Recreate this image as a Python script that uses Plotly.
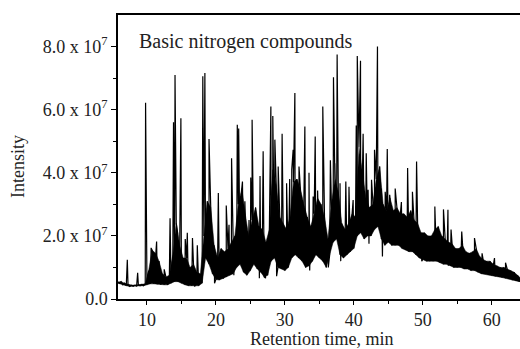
import numpy as np
import plotly.graph_objects as go

# Chromatogram read-out (intensity in units of 1e7), sampled every 0.5 min from 5.5 min
t_start = 5.5
t_step = 0.5
low_env = [0.52,
    0.50, 0.45, 0.42, 0.40, 0.40, 0.41, 0.42, 0.42, 0.45, 0.48,
    0.48, 0.47, 0.45, 0.45, 0.45, 0.50, 0.55, 0.55, 0.50, 0.45,
    0.42, 0.42, 0.42, 0.42, 0.50, 1.30, 1.10, 0.80, 0.62, 0.60,
    0.65, 0.70, 0.75, 0.80, 1.00, 1.10, 0.85, 0.75, 0.90, 1.10,
    0.95, 0.85, 0.70, 0.75, 1.20, 1.30, 1.00, 0.95, 0.90, 1.00,
    1.30, 1.40, 1.30, 1.20, 1.00, 1.05, 1.20, 1.40, 1.30, 1.20,
    1.00, 1.40, 1.80, 1.90, 1.40, 1.30, 1.40, 1.50, 1.60, 2.00,
    2.10, 1.90, 2.00, 2.00, 2.20, 2.30, 1.90, 1.70, 1.80, 1.70,
    1.70, 1.70, 1.60, 1.55, 1.50, 1.50, 1.40, 1.30, 1.25, 1.20,
    1.20, 1.20, 1.20, 1.15, 1.10, 1.10, 1.05, 1.00, 1.00, 1.00,
    0.95, 0.95, 0.90, 0.90, 0.85, 0.80, 0.80, 0.78, 0.75, 0.72,
    0.70, 0.68, 0.66, 0.64, 0.60, 0.58, 0.55]
high_env = [0.54,
    0.55, 0.50, 0.46, 0.44, 0.44, 0.45, 0.46, 0.48, 0.90, 1.55,
    1.45, 1.20, 0.80, 0.70, 0.75, 1.40, 2.40, 1.70, 1.30, 1.30,
    1.00, 1.10, 0.85, 0.80, 2.00, 3.10, 2.90, 1.70, 1.30, 1.60,
    1.50, 1.60, 1.80, 2.00, 3.00, 3.50, 2.70, 2.00, 2.50, 2.90,
    2.30, 2.20, 1.80, 2.20, 4.10, 3.60, 2.60, 2.40, 2.20, 2.60,
    3.70, 3.80, 3.50, 3.00, 2.60, 2.30, 2.70, 3.20, 3.00, 2.60,
    1.90, 3.00, 3.80, 3.40, 2.40, 2.20, 2.40, 2.70, 2.60, 4.80,
    4.00, 3.20, 2.90, 3.00, 3.80, 4.20, 3.00, 2.80, 3.20, 2.80,
    2.90, 2.70, 2.70, 2.60, 2.80, 2.50, 2.40, 2.10, 2.10, 2.00,
    2.00, 2.20, 2.30, 2.00, 1.90, 1.80, 1.75, 1.60, 1.60, 1.70,
    1.50, 1.45, 1.50, 1.60, 1.35, 1.25, 1.20, 1.20, 1.10, 1.05,
    1.00, 1.00, 0.95, 0.90, 0.85, 0.75, 0.65]

# Individual peaks: retention time (min) and apex intensity (1e7)
peak_time = [7.15, 8.65, 9.8, 10.6, 11.4, 12.5, 13.35, 13.85, 14.07, 14.45,
             14.92, 15.55, 15.85, 16.6, 17.3, 18.1, 18.4, 19.0, 20.35, 21.5,
             21.9, 22.27, 23.1, 23.3, 23.85, 24.2, 24.8, 25.05, 25.25, 25.9,
             26.4, 26.85, 27.97, 28.25, 28.55, 29.03, 29.6, 30.25, 30.7, 31.0,
             31.2, 31.45, 32.05, 32.9, 33.5, 34.1, 34.4, 34.75, 35.5, 36.6,
             37.05, 37.25, 37.58, 38.0, 38.84, 39.3, 39.9, 40.35, 40.5, 40.97,
             41.35, 41.8, 42.07, 42.57, 43.0, 43.43, 44.0, 44.55, 44.85, 45.2,
             46.0, 46.9, 47.8, 48.5, 49.1, 51.75, 53.0, 53.65, 54.1, 55.65,
             57.5, 58.6, 60.4, 62.0]
peak_height = [1.24, 0.83, 6.22, 1.62, 1.82, 0.94, 2.56, 5.6, 7.1, 2.08,
               5.73, 1.9, 2.1, 1.93, 1.7, 7.06, 7.16, 5.07, 3.36, 2.96,
               2.35, 4.46, 5.52, 5.4, 3.72, 3.1, 2.5, 3.85, 5.68, 2.5,
               3.9, 4.68, 6.1, 5.8, 5.05, 4.2, 5.24, 3.67, 3.8, 4.1,
               4.73, 6.53, 4.2, 5.47, 4.0, 3.25, 5.15, 3.44, 6.1, 4.4,
               7.03, 4.3, 7.75, 3.67, 3.72, 3.56, 3.14, 5.5, 7.7, 7.55,
               5.24, 4.62, 3.46, 3.78, 4.73, 8.0, 3.5, 3.4, 4.75, 3.3,
               3.5, 3.07, 4.15, 3.4, 4.36, 2.93, 2.84, 2.83, 2.2, 2.14,
               1.93, 1.45, 1.3, 1.15]

# Downward excursions below the dense band: time (min) and minimum (1e7)
dip_time = [16.9, 19.8, 21.2, 22.6, 24.5, 26.3, 27.2, 28.8, 30.0, 33.6,
            36.3, 38.1, 42.2, 44.15, 49.85, 50.6, 53.7]
dip_value = [0.40, 0.50, 0.70, 0.75, 0.80, 0.66, 0.66, 0.72, 0.90, 0.90,
             1.00, 1.20, 1.75, 1.35, 1.20, 1.20, 1.05]

x_ticks = [10, 20, 30, 40, 50, 60]
x_minor = [15, 25, 35, 45, 55]
y_ticks = [0, 2e7, 4e7, 6e7, 8e7]
y_ticktext = ["0.0", "2.0 x 10<sup>7</sup>", "4.0 x 10<sup>7</sup>",
              "6.0 x 10<sup>7</sup>", "8.0 x 10<sup>7</sup>"]
y_minor = [1e7, 3e7, 5e7, 7e7]
unit = 1e7

times = t_start + t_step * np.arange(len(low_env))
hi_times = times + t_step / 2

# dense band (unresolved peaks) drawn as a filled region between the envelopes
band_x = list(hi_times) + list(times[::-1])
band_y = [v * unit for v in high_env] + [v * unit for v in low_env[::-1]]

pts = [(t, v) for t, v in zip(times, low_env)]
pts += [(t, v) for t, v in zip(hi_times, high_env)]
pts += list(zip(peak_time, peak_height))
pts += list(zip(dip_time, dip_value))
pts.sort(key=lambda p: p[0])
xs = [p[0] for p in pts]
ys = [p[1] * unit for p in pts]

font_family = "Liberation Serif"
txt = "#222222"

fig = go.Figure()
fig.add_trace(go.Scatter(x=band_x, y=band_y, mode="lines", fill="toself",
                         fillcolor="black", line=dict(color="black", width=0.5),
                         hoverinfo="skip"))
fig.add_trace(go.Scatter(x=xs, y=ys, mode="lines",
                         line=dict(color="black", width=1.2), hoverinfo="skip"))

fig.update_layout(
    width=520, height=349,
    margin=dict(l=118, r=0, t=15, b=50),
    paper_bgcolor="white", plot_bgcolor="white",
    showlegend=False,
    font=dict(family=font_family, size=18, color=txt),
)
fig.update_xaxes(
    range=[5.8, 64.1], tickvals=x_ticks, ticks="outside", ticklen=4,
    tickwidth=1.3, tickcolor="black", showline=True, linecolor="black",
    linewidth=1.5, mirror=True, showgrid=False, zeroline=False,
    minor=dict(tickvals=x_minor, ticks="outside", ticklen=3, tickcolor="black"),
)
fig.update_yaxes(
    range=[0, 9.0e7], tickvals=y_ticks, ticktext=y_ticktext, ticks="outside",
    ticklen=5, tickwidth=1.3, tickcolor="black", showline=True,
    linecolor="black", linewidth=1.5, showgrid=False, zeroline=False,
    minor=dict(tickvals=y_minor, ticks="outside", ticklen=3, tickcolor="black"),
)
fig.add_annotation(text="Intensity", xref="paper", yref="paper",
                   x=-0.249, y=0.468, xanchor="center", yanchor="middle",
                   textangle=-90, showarrow=False,
                   font=dict(family=font_family, size=18, color=txt))
fig.add_annotation(text="Retention time, min", xref="paper", yref="paper",
                   x=0.507, y=-0.140, xanchor="center", yanchor="middle",
                   showarrow=False,
                   font=dict(family=font_family, size=18, color=txt))
fig.add_annotation(text="Basic nitrogen compounds", xref="paper", yref="paper",
                   x=0.048, y=0.908, xanchor="left", yanchor="middle",
                   showarrow=False,
                   font=dict(family=font_family, size=20, color=txt))

fig.write_html("out.html")
